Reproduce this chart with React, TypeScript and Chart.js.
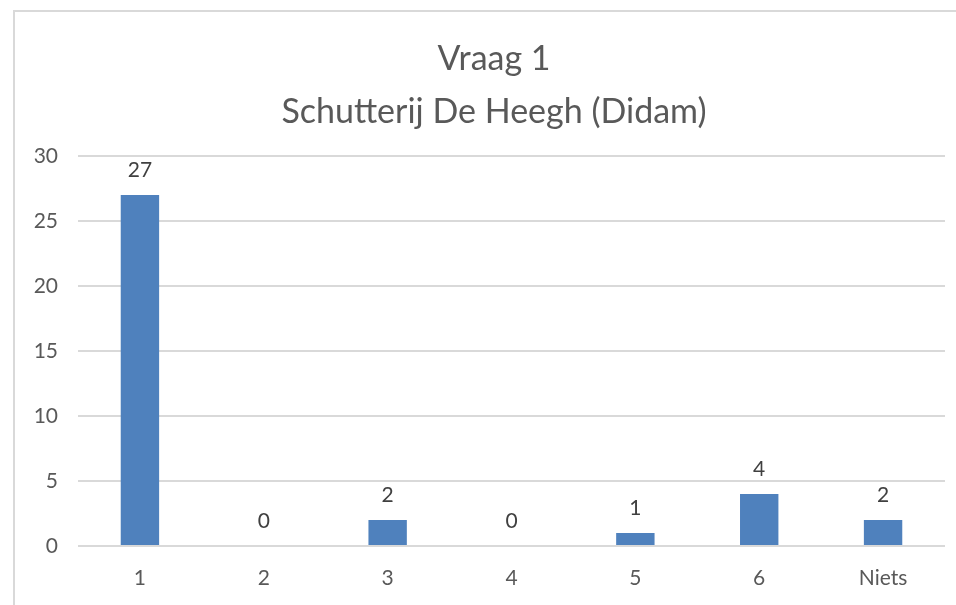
import { useEffect, useRef } from 'react';
import { Chart, registerables } from 'chart.js';

Chart.register(...registerables);

const categories = ['1', '2', '3', '4', '5', '6', 'Niets'];
const values = [27, 0, 2, 0, 1, 4, 2];
const titleLines = ['Vraag 1', 'Schutterij De Heegh (Didam)'];
const yMin = 0;
const yMax = 30;
const yStep = 5;

const FONT = 'Lato, "Open Sans", sans-serif';

export default function App() {
  const ref = useRef<HTMLCanvasElement>(null);

  useEffect(() => {
    document.body.style.margin = '0';
    const canvas = ref.current;
    if (!canvas) return;

    const framePlugin = {
      id: 'frame',
      beforeDraw(chart: any) {
        const ctx = chart.ctx;
        ctx.save();
        ctx.fillStyle = '#ffffff';
        ctx.fillRect(0, 0, chart.width, chart.height);
        ctx.strokeStyle = '#d9d9d9';
        ctx.lineWidth = 2;
        ctx.beginPath();
        ctx.moveTo(14, chart.height);
        ctx.lineTo(14, 11);
        ctx.lineTo(chart.width, 11);
        ctx.stroke();
        ctx.restore();
      },
    };

    const titlePlugin = {
      id: 'twoLineTitle',
      afterDraw(chart: any) {
        const ctx = chart.ctx;
        ctx.save();
        ctx.font = `34px ${FONT}`;
        ctx.fillStyle = '#595959';
        ctx.textAlign = 'center';
        ctx.textBaseline = 'alphabetic';
        ctx.fillText(titleLines[0], 494, 70);
        ctx.fillText(titleLines[1], 494, 123);
        ctx.restore();
      },
    };

    const labelPlugin = {
      id: 'valueLabels',
      afterDatasetsDraw(chart: any) {
        const ctx = chart.ctx;
        const meta = chart.getDatasetMeta(0);
        ctx.save();
        ctx.font = `21px ${FONT}`;
        ctx.fillStyle = '#404040';
        ctx.textAlign = 'center';
        ctx.textBaseline = 'middle';
        meta.data.forEach((bar: any, i: number) => {
          ctx.fillText(String(values[i]), bar.x, bar.y - 25);
        });
        ctx.restore();
      },
    };

    const chart = new Chart(canvas, {
      type: 'bar',
      data: {
        labels: categories,
        datasets: [
          {
            data: values,
            backgroundColor: '#4f81bd',
            borderWidth: 0,
            barPercentage: 0.31,
            categoryPercentage: 1,
          },
        ],
      },
      options: {
        responsive: false,
        animation: false,
        layout: { padding: { top: 156, right: 11, bottom: 0, left: 0 } },
        plugins: {
          legend: { display: false },
          title: { display: false },
          tooltip: { enabled: false },
        },
        scales: {
          x: {
            grid: { display: false, drawTicks: false },
            border: { display: false },
            ticks: { color: '#595959', font: { size: 21, family: FONT }, padding: 20 },
            afterFit(scale: any) {
              scale.height = 59;
            },
          },
          y: {
            min: yMin,
            max: yMax,
            ticks: {
              stepSize: yStep,
              color: '#595959',
              font: { size: 21, family: FONT },
              padding: 20,
            },
            grid: { color: '#d9d9d9', lineWidth: 2, drawTicks: false },
            border: { display: false },
            afterFit(scale: any) {
              scale.width = 78;
            },
          },
        },
      },
      plugins: [framePlugin, titlePlugin, labelPlugin],
    });

    return () => chart.destroy();
  }, []);

  return (
    <div style={{ position: 'fixed', left: 0, top: 0, width: 956, height: 605 }}>
      <canvas ref={ref} width={956} height={605} />
    </div>
  );
}
